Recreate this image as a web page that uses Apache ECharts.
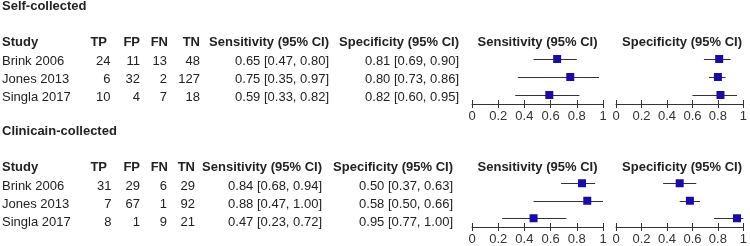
<!DOCTYPE html>
<html>
<head>
<meta charset="utf-8">
<script src="https://cdn.jsdelivr.net/npm/echarts@6/dist/echarts.min.js"></script>
<style>
	html, body { margin: 0; padding: 0; background: #fff; }
	#forest { width: 750px; height: 246px; }
</style>
</head>
<body>
<div id="forest"></div>
<script type="text/javascript">
	// studies / 2x2 counts
	var studies = ['Brink 2006', 'Jones 2013', 'Singla 2017'];
	var xTicks = [0, 0.2, 0.4, 0.6, 0.8, 1];

	// self-collected
	var selfTP = [24, 6, 10];
	var selfFP = [11, 32, 4];
	var selfFN = [13, 2, 7];
	var selfTN = [48, 127, 18];
	var selfSens = [0.65, 0.75, 0.59];
	var selfSensLo = [0.47, 0.35, 0.33];
	var selfSensHi = [0.80, 0.97, 0.82];
	var selfSpec = [0.81, 0.80, 0.82];
	var selfSpecLo = [0.69, 0.73, 0.60];
	var selfSpecHi = [0.90, 0.86, 0.95];

	// clinician-collected
	var clinTP = [31, 7, 8];
	var clinFP = [29, 67, 1];
	var clinFN = [6, 1, 9];
	var clinTN = [29, 92, 21];
	var clinSens = [0.84, 0.88, 0.47];
	var clinSensLo = [0.68, 0.47, 0.23];
	var clinSensHi = [0.94, 1.00, 0.72];
	var clinSpec = [0.50, 0.58, 0.95];
	var clinSpecLo = [0.37, 0.50, 0.77];
	var clinSpecHi = [0.63, 0.66, 1.00];

	var FONT = '"Liberation Sans", Arial, sans-serif';
	var TXT = '#222';
	var BLUE = '#1a0aa8';

	function fmt(v) { return v.toFixed(2); }

	// grids: 0/1 top sens/spec, 2/3 bottom sens/spec
	var grids = [
		{left: 472, width: 131, top: 50, height: 54},
		{left: 616, width: 132, top: 50, height: 54},
		{left: 472, width: 131, top: 174.5, height: 54},
		{left: 616, width: 132, top: 174.5, height: 54}
	];

	var xAxis = [], yAxis = [], series = [];
	grids.forEach(function (g, i) {
		// main axis: line, upper half of the ticks, labels
		xAxis.push({
			type: 'value', gridIndex: i, min: 0, max: 1, interval: 0.2,
			position: 'bottom',
			splitLine: {show: false},
			axisLine: {show: true, lineStyle: {color: '#333', width: 1}},
			axisTick: {show: true, inside: true, length: 4, lineStyle: {color: '#333'}},
			axisLabel: {
				show: true, margin: 6, color: '#333', fontSize: 13,
				fontFamily: '"Liberation Sans Narrow", "Liberation Sans", sans-serif',
				formatter: function (v) { return String(Math.round(v * 10) / 10); }
			}
		});
		// second axis only for the lower half of the ticks
		xAxis.push({
			type: 'value', gridIndex: i, min: 0, max: 1, interval: 0.2, offset: 0,
			position: 'bottom',
			splitLine: {show: false},
			axisLine: {show: false},
			axisTick: {show: true, inside: false, length: 4, lineStyle: {color: '#333'}},
			axisLabel: {show: false}
		});
		yAxis.push({type: 'category', gridIndex: i, data: studies, inverse: true, show: false});
	});

	function addPlot(idx, est, lo, hi) {
		series.push({
			type: 'custom',
			xAxisIndex: idx * 2, yAxisIndex: idx,
			data: studies.map(function (s, k) { return [k, lo[k], hi[k]]; }),
			encode: {x: [1, 2], y: 0},
			renderItem: function (params, api) {
				var a = api.coord([api.value(1), api.value(0)]);
				var b = api.coord([api.value(2), api.value(0)]);
				var y = Math.round(a[1]) + 0.5;
				return {
					type: 'line',
					shape: {x1: a[0], y1: y, x2: b[0], y2: y},
					style: {stroke: '#333', lineWidth: 1}
				};
			},
			silent: true, z: 2
		});
		series.push({
			type: 'scatter',
			xAxisIndex: idx * 2, yAxisIndex: idx,
			symbol: 'rect', symbolSize: 8,
			itemStyle: {color: BLUE, opacity: 1},
			data: studies.map(function (s, k) { return [est[k], k]; }),
			silent: true, z: 3
		});
	}
	addPlot(0, selfSens, selfSensLo, selfSensHi);
	addPlot(1, selfSpec, selfSpecLo, selfSpecHi);
	addPlot(2, clinSens, clinSensLo, clinSensHi);
	addPlot(3, clinSpec, clinSpecLo, clinSpecHi);

	// table text
	var graphic = [];
	function txt(s, x, y, align, bold) {
		graphic.push({
			type: 'text', x: x, y: y, silent: true,
			style: {
				text: s, fill: TXT, align: align, verticalAlign: 'middle',
				font: (bold ? 'bold ' : '') + '13px ' + FONT
			}
		});
	}

	function section(title, titleY, headY, rowY, col, tp, fp, fn, tn, se, seLo, seHi, sp, spLo, spHi) {
		txt(title, 2, titleY, 'left', true);
		txt('Study', 2, headY, 'left', true);
		txt('TP', col.tpH, headY, 'right', true);
		txt('FP', col.fp, headY, 'right', true);
		txt('FN', col.fnH, headY, 'right', true);
		txt('TN', col.tn, headY, 'right', true);
		txt('Sensitivity (95% CI)', col.se, headY, 'right', true);
		txt('Specificity (95% CI)', col.sp, headY, 'right', true);
		txt('Sensitivity (95% CI)', 537.5, headY, 'center', true);
		txt('Specificity (95% CI)', 682, headY, 'center', true);
		studies.forEach(function (s, k) {
			var y = rowY[k];
			txt(s, 2, y, 'left');
			txt(String(tp[k]), col.tp, y, 'right');
			txt(String(fp[k]), col.fp, y, 'right');
			txt(String(fn[k]), col.fn, y, 'right');
			txt(String(tn[k]), col.tn, y, 'right');
			txt(fmt(se[k]) + ' [' + fmt(seLo[k]) + ', ' + fmt(seHi[k]) + ']', col.se, y, 'right');
			txt(fmt(sp[k]) + ' [' + fmt(spLo[k]) + ', ' + fmt(spHi[k]) + ']', col.sp, y, 'right');
		});
	}

	section('Self-collected', 6, 42.5, [61.5, 79.5, 97.5],
		{tpH: 107, tp: 110.5, fp: 140, fnH: 168, fn: 167, tn: 200, se: 329, sp: 459},
		selfTP, selfFP, selfFN, selfTN, selfSens, selfSensLo, selfSensHi, selfSpec, selfSpecLo, selfSpecHi);
	section('Clinicain-collected', 131, 167, [186, 204, 222],
		{tpH: 107, tp: 111.5, fp: 140, fnH: 168, fn: 167, tn: 195, se: 322, sp: 453},
		clinTP, clinFP, clinFN, clinTN, clinSens, clinSensLo, clinSensHi, clinSpec, clinSpecLo, clinSpecHi);

	var myChart = echarts.init(document.getElementById('forest'), null, {renderer: 'canvas'});
	var option = {
		animation: false,
		backgroundColor: '#fff',
		grid: grids,
		xAxis: xAxis,
		yAxis: yAxis,
		series: series,
		graphic: graphic
	};
	myChart.setOption(option);
</script>
</body>
</html>
